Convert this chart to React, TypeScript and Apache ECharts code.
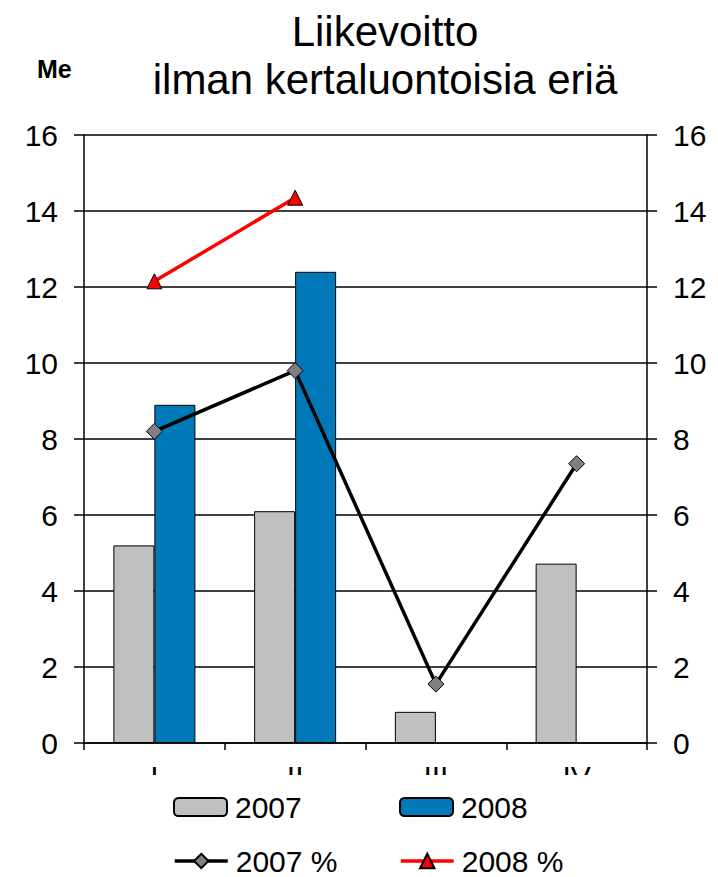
import React, { useEffect, useRef } from "react";
import * as echarts from "echarts";

const categories = ["I", "II", "III", "IV"];
const bars2007 = [5.2, 6.1, 0.82, 4.72];
const bars2008 = [8.9, 12.4, null, null];
const pct2007 = [8.2, 9.8, 1.55, 7.35];
const pct2008 = [12.15, 14.35, null, null];
const yTicks = { min: 0, max: 16, interval: 2 };

const FONT = "'Liberation Sans', Arial, sans-serif";

export default function App() {
  const ref = useRef<HTMLDivElement>(null);
  useEffect(() => {
    document.body.style.margin = "0";
    const chart = echarts.init(ref.current!, null, { renderer: "svg" });
    const axisStyle = { lineStyle: { color: "#000", width: 1.5 } };
    const legendBase = {
      itemWidth: 53,
      itemHeight: 18,
      itemGap: 0,
      textStyle: { fontSize: 30, color: "#000", fontFamily: FONT, padding: [0, 0, 0, 3] },
      selectedMode: false as const,
    };
    chart.setOption({
      animation: false,
      textStyle: { fontFamily: FONT },
      title: {
        text: "Liikevoitto\nilman kertaluontoisia eriä",
        left: 380,
        top: 2,
        textAlign: "center",
        textStyle: { fontSize: 42, fontWeight: "normal", color: "#000", lineHeight: 48, fontFamily: FONT },
      },
      graphic: [
        {
          type: "text",
          left: 37,
          top: 56,
          style: { text: "Me", fontSize: 25, fontWeight: "bold", fill: "#000", fontFamily: FONT },
        },
        {
          type: "rect",
          z: 100,
          shape: { x: 0, y: 775, width: 718, height: 12 },
          style: { fill: "#fff" },
        },
      ],
      legend: [
        { ...legendBase, left: 168, top: 787, data: ["2007"] },
        { ...legendBase, left: 394, top: 787, data: ["2008"] },
        { ...legendBase, left: 168, top: 841, lineStyle: { width: 3.5 }, data: ["2007 %"] },
        { ...legendBase, left: 394, top: 841, lineStyle: { width: 3.5 }, data: ["2008 %"] },
      ],
      grid: { left: 84, right: 71, top: 135, height: 608 },
      xAxis: {
        type: "category",
        data: categories,
        axisLine: { ...axisStyle },
        axisTick: { show: true, length: 7, alignWithLabel: false, lineStyle: { color: "#000", width: 1.5 } },
        axisLabel: { fontSize: 30, color: "#000", margin: 18, fontFamily: FONT },
      },
      yAxis: [
        {
          type: "value",
          ...yTicks,
          position: "left",
          axisLine: { show: true, ...axisStyle },
          axisTick: { show: true, length: 10, lineStyle: { color: "#000", width: 1.5 } },
          axisLabel: { fontSize: 30, color: "#000", margin: 26, fontFamily: FONT },
          splitLine: { show: true, lineStyle: { color: "#000", width: 1.5 } },
        },
        {
          type: "value",
          ...yTicks,
          position: "right",
          axisLine: { show: true, ...axisStyle },
          axisTick: { show: true, length: 10, lineStyle: { color: "#000", width: 1.5 } },
          axisLabel: { fontSize: 30, color: "#000", margin: 26, fontFamily: FONT },
          splitLine: { show: false },
        },
      ],
      series: [
        {
          name: "2007",
          type: "bar",
          data: bars2007,
          barWidth: 41,
          barGap: "0%",
          itemStyle: { color: "#C0C0C0", borderColor: "#000", borderWidth: 1 },
        },
        {
          name: "2008",
          type: "bar",
          data: bars2008,
          barWidth: 41,
          barGap: "0%",
          itemStyle: { color: "#0079B9", borderColor: "#000", borderWidth: 1 },
        },
        {
          name: "2007 %",
          type: "line",
          yAxisIndex: 1,
          data: pct2007,
          symbol: "diamond",
          symbolSize: 16,
          lineStyle: { color: "#000", width: 3.5 },
          itemStyle: { color: "#808080", borderColor: "#000", borderWidth: 1 },
          z: 5,
        },
        {
          name: "2008 %",
          type: "line",
          yAxisIndex: 1,
          data: pct2008,
          symbol: "triangle",
          symbolSize: 15,
          lineStyle: { color: "#FF0000", width: 3.5 },
          itemStyle: { color: "#FF0000", borderColor: "#000", borderWidth: 1 },
          z: 5,
        },
      ],
    });
    return () => chart.dispose();
  }, []);
  return <div ref={ref} style={{ width: 718, height: 877 }} />;
}
